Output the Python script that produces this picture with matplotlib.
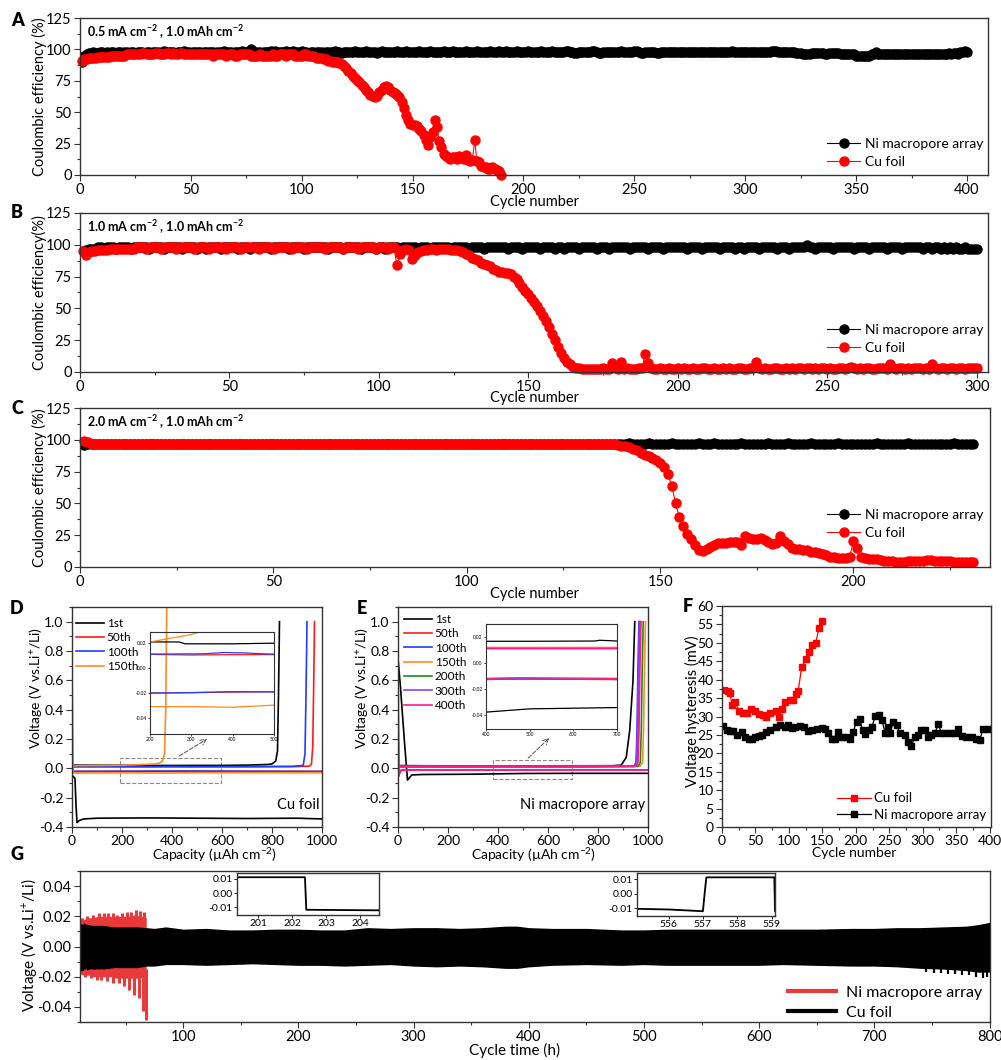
"""Li plating/stripping performance: CE, voltage profiles, hysteresis, symmetric-cell cycling."""

import matplotlib.pyplot as plt
import numpy as np
from matplotlib.lines import Line2D
from matplotlib.patches import Rectangle
from matplotlib.ticker import FormatStrFormatter, MultipleLocator

plt.rcParams['font.family'] = ['Lato', 'DejaVu Sans']
plt.rcParams['mathtext.fontset'] = 'custom'
plt.rcParams['mathtext.rm'] = 'Lato'
plt.rcParams['mathtext.it'] = 'Lato:italic'
plt.rcParams['mathtext.bf'] = 'Lato:bold'
plt.rcParams['axes.linewidth'] = 1.0
plt.rcParams['axes.edgecolor'] = '#333333'

W, H = 1001, 1060


def vals(s):
    return np.array(s.split(), dtype=float)


# ---- A: 0.5 mA cm-2 coulombic efficiency (per cycle) ----
ni_a = vals("""
90 95 96 97 97 98 97 97 98 98 97 98 97 98 98 97 98 98 97 98
98 97 98 98 97 98 98 98 97 98 98 97 98 98 98 97 98 99 98 98
98 98 97 98 98 98 99 98 98 97 98 98 98 98 97 98 98 98 98 98
97 98 98 98 99 98 98 98 97 98 98 98 99 98 98 99 100 98 98 98
98 97 98 98 98 99 98 99 98 98 98 98 99 98 98 99 98 98 98 99
98 98 97 98 98 97 98 98 98 97 98 98 98 98 99 98 98 97 98 98
98 98 98 99 98 98 98 98 99 98 98 98 98 97 98 99 98 98 98 98
98 98 99 98 98 98 99 98 98 98 98 98 99 98 98 98 98 99 98 98
98 98 98 99 98 98 98 99 98 98 98 98 98 99 98 98 98 98 99 98
98 98 98 98 99 98 98 98 99 98 98 99 98 98 98 98 99 98 98 98
98 99 98 98 98 98 98 99 98 98 98 98 99 98 98 98 98 98 99 99
98 98 97 97 98 98 98 98 98 98 99 99 98 97 97 98 98 98 98 98
98 98 98 99 98 98 98 98 98 99 99 98 97 97 98 98 98 98 98 97
97 98 98 98 98 98 98 98 98 98 98 98 98 98 98 98 98 98 98 98
98 98 98 98 98 98 98 98 98 98 98 98 98 99 98 98 98 98 98 98
98 98 98 98 98 98 98 98 98 98 98 99 99 99 98 98 98 98 98 98
98 98 97 97 97 96 96 96 96 97 97 97 97 97 97 96 96 97 97 97
97 97 96 96 96 96 96 96 96 95 95 95 95 95 95 95 96 96 98 96
96 96 96 96 96 96 96 96 96 96 96 96 96 96 96 96 96 96 96 96
96 96 96 96 96 96 96 96 96 96 96 97 96 97 97 96 98 98 99 98
""")
cu_a = vals("""
91 92 92 93 93 93 93 94 94 94 94 94 94 95 95 95 95 95 95 95
96 96 96 96 96 96 96 97 97 96 96 96 96 97 97 96 96 96 97 97
96 97 96 96 97 97 96 96 96 96 96 96 96 96 96 96 96 96 96 95
96 96 96 96 96 95 96 96 96 95 95 96 96 96 96 96 95 95 95 95
96 95 95 95 95 95 96 95 95 96 96 96 95 96 96 96 95 95 95 95
96 96 95 95 95 94 93 93 93 92 92 91 91 90 90 90 89 88 87 85
83 81 79 77 76 74 72 70 68 66 64 63 62 63 66 68 70 71 70 68
66 65 64 62 58 53 48 44 41 40 40 39 37 35 32 28 24 30 34 44
38 27 22 17 15 14 13 14 14 13 15 14 13 16 12 11 12 28 11 10
7 6 6 5 5 6 5 4 3 0
""")

# ---- B: 1.0 mA cm-2 ----
ni_b = vals("""
95 96 97 97 97 98 98 97 98 98 98 97 98 98 98 98 97 98 98 98
98 98 97 98 98 98 98 97 98 98 98 98 98 97 98 98 98 98 97 98
98 97 98 98 98 98 97 98 98 98 98 98 97 98 98 98 97 98 98 98
98 98 98 97 98 98 98 98 98 97 98 98 98 98 97 98 98 98 98 98
98 98 97 98 98 98 98 97 98 98 98 98 98 97 98 98 98 98 97 98
98 97 98 98 98 98 97 98 98 98 98 98 97 98 98 98 97 98 98 98
98 98 98 97 98 98 98 98 98 97 98 98 98 98 97 98 98 98 98 98
98 98 97 98 98 98 98 97 98 98 98 98 98 97 98 98 98 98 97 98
98 97 98 98 98 98 97 98 98 98 98 98 97 98 98 98 97 98 98 98
98 98 98 97 98 98 98 98 98 97 98 98 98 98 97 98 98 98 98 98
98 98 97 98 98 98 98 97 98 98 98 98 98 97 98 98 98 98 97 98
98 97 98 98 98 98 97 98 98 98 98 98 97 98 98 98 97 98 98 98
98 98 100 98 98 97 98 98 98 98 98 97 98 98 98 98 98 98 97 98
98 98 98 97 98 98 98 98 98 97 98 98 98 98 97 98 98 98 98 98
98 97 98 98 97 98 98 97 98 97 98 97 98 97 97 98 97 97 97 97
""")
cu_b = vals("""
95 92 94 95 95 96 96 96 96 97 97 97 97 97 97 97 97 97 98 98
98 97 98 98 98 98 97 98 98 98 98 97 98 98 98 98 98 97 98 98
98 98 97 98 98 98 98 98 97 98 98 98 98 97 98 98 98 98 98 97
98 98 98 98 97 98 98 98 98 98 97 98 98 98 98 97 98 98 98 98
98 97 98 98 98 98 98 97 98 98 98 98 97 98 98 98 98 98 97 98
98 98 97 98 98 84 93 96 97 96 89 92 94 95 96 96 97 97 96 97
97 97 97 96 96 96 95 94 93 92 90 89 88 86 85 84 83 81 80 79
79 78 78 77 75 73 70 67 64 61 58 55 52 48 44 40 35 30 25 20
15 11 8 6 4 3 3 2 2 2 2 2 2 2 3 2 2 7 3 2
8 2 3 2 2 2 3 3 14 7 3 2 2 3 2 2 3 2 2 3
2 3 2 2 3 2 2 3 3 2 2 3 2 2 3 2 3 2 2 3
3 2 2 3 3 8 3 2 3 2 2 3 3 2 2 3 2 3 2 3
3 2 3 3 2 3 2 3 3 2 3 2 2 3 3 2 3 4 3 2
3 2 3 3 2 2 3 3 3 2 6 3 2 3 3 2 3 2 3 3
3 2 3 2 6 3 2 3 3 2 3 3 2 3 3 2 3 3 3 3
""")

# ---- C: 2.0 mA cm-2 ----
ni_c = vals("""
96 97 97 97 97 97 97 97 97 97 97 97 97 97 97 97 97 97 97 97
97 97 97 97 97 97 97 97 97 97 97 97 97 97 97 97 97 97 97 97
97 97 97 97 97 97 97 97 97 97 97 97 97 97 97 97 97 97 97 97
97 97 97 97 97 97 97 97 97 97 97 97 97 97 97 97 97 97 97 97
97 97 97 97 97 97 97 97 97 97 97 97 97 97 97 97 97 97 97 97
97 97 97 97 97 97 97 97 97 97 97 97 97 97 97 97 97 97 97 97
97 97 97 97 97 97 97 97 97 97 97 97 97 97 97 97 97 97 97 97
97 97.5 97 97 97 97 97.5 97 97 97 97 97 97.5 97 97 97 97 97 97 97.5
97 97 97 97.5 97 97 97 97 97 97 97.5 97 97 97 97 97 97 97.5 97 97
97 97 97.5 97 97 97 97 97 97.5 97 97 97 97 97 97 97.5 97 97 97 97
97 97 97 97 97 97.5 97 97 97 97 97 97 97 97.5 97 97 97 97 97 97
97 97 97 97 97 97.5 97 97 96.5 97 97
""")
cu_c = vals("""
99 98 97 97 97 97 97 97 97 97 97 97 97 97 97 97 97 97 97 97
97 97 97 97 97 97 97 97 97 97 97 97 97 97 97 97 97 97 97 97
97 97 97 97 97 97 97 97 97 97 97 97 97 97 97 97 97 97 97 97
97 97 97 97 97 97 97 97 97 97 97 97 97 97 97 97 97 97 97 97
97 97 97 97 97 97 97 97 97 97 97 97 97 97 97 97 97 97 97 97
97 97 97 97 97 97 97 97 97 97 97 97 97 97 97 97 97 97 97 97
97 97 97 97 97 97 97 97 97 97 97 97 97 97 97 97 97 96.5 96 95.5
95 94 93 92 90 88 87 86 84 82 79 73 64 50 39 32 26 22 17 13
12.5 14 16 17 18.5 19 19 19.5 20 20 17 24.5 23 22 22 22.5 21 20 18 19
24.5 20.5 18 15 14.5 14 13.5 13.5 12 11.5 11 10.5 9.5 8 7.5 7 7 7 8 20.5
15 8 7 6.5 6.3 6 5.5 5 4.5 4.5 4.3 4.2 4.2 4.5 4.5 4.8 5 5 5.5 5.5
5 5 4.5 4.5 4.5 4.2 4.2 4.2 4.3 4.2 4.2
""")

# ---- D: Cu foil voltage profiles (capacity uAh cm-2, V) ----
d_labels = ['1st', '50th', '100th', '150th']
d_colors = ['black', '#ff1a1a', '#1f3dff', '#ff8a1f']
d_strip_cap = [
    [0, 100, 200, 270, 285, 300, 400, 500, 600, 700, 780, 800, 815, 822, 826, 830],
    [0, 200, 300, 400, 500, 700, 900, 950, 958, 963, 967, 970],
    [0, 200, 330, 380, 430, 470, 500, 700, 880, 925, 932, 936, 940],
    [0, 100, 200, 250, 300, 330, 350, 362, 370, 375, 379],
]
d_strip_v = [
    [0.022, 0.021, 0.021, 0.021, 0.0195, 0.0195, 0.0195, 0.02, 0.02, 0.022, 0.026, 0.03, 0.05, 0.12, 0.5, 1.0],
    [0.011, 0.011, 0.0105, 0.0108, 0.0108, 0.011, 0.012, 0.015, 0.03, 0.15, 0.6, 1.0],
    [0.0115, 0.0112, 0.0115, 0.0125, 0.0122, 0.0115, 0.0112, 0.012, 0.013, 0.02, 0.1, 0.5, 1.0],
    [0.018, 0.019, 0.021, 0.024, 0.027, 0.03, 0.035, 0.05, 0.1, 0.4, 1.1],
]
d_plate_cap = [
    [0, 5, 12, 16, 20, 30, 47, 100, 300, 500, 700, 900, 1000],
    [0, 2, 6, 200, 300, 400, 500, 700, 1000],
    [0, 2, 6, 200, 300, 400, 500, 700, 1000],
    [0, 2, 6, 200, 300, 400, 500, 700, 1000],
]
d_plate_v = [
    [-0.05, -0.055, -0.07, -0.25, -0.37, -0.355, -0.345, -0.34, -0.338, -0.34, -0.342, -0.34, -0.345],
    [0.85, 0.0, -0.021, -0.020, -0.0198, -0.0193, -0.019, -0.02, -0.021],
    [0.86, 0.0, -0.021, -0.0202, -0.0197, -0.019, -0.0192, -0.02, -0.021],
    [1.05, 0.0, -0.032, -0.031, -0.031, -0.0315, -0.0298, -0.03, -0.03],
]

# ---- E: Ni macropore array voltage profiles ----
e_labels = ['1st', '50th', '100th', '150th', '200th', '300th', '400th']
e_colors = ['black', '#ff1a1a', '#1f3dff', '#ff8a1f', '#1a8a1a', '#8a3dff', '#ff1a8c']
e_rise = [0, 962, 958, 984, 975, 960, 966]  # capacity where stripping ends
e_strip_cap = [0, 100, 300, 500, 650, 660, 700, 860, 893, 913, 927, 940, 947]
e_strip_v = [0.019, 0.0175, 0.017, 0.017, 0.0172, 0.0178, 0.0172, 0.018, 0.022, 0.075, 0.26, 0.6, 1.0]
e_plate_black_cap = [0, 10, 25, 38, 55, 100, 300, 500, 700, 1000]
e_plate_black_v = [0.75, 0.55, 0.2, -0.08, -0.045, -0.042, -0.04, -0.035, -0.034, -0.034]
e_upper = [0, 0.0125, 0.0118, 0.0128, 0.0115, 0.0122, 0.012]   # stripping plateau
e_lower = [0, -0.0125, -0.0122, -0.012, -0.0124, -0.0123, -0.0115]  # plating plateau
e_start = [0, 0.3, 0.5, 0.2, -0.06, -0.05, 0.95]

# ---- F: voltage hysteresis (mV) ----
cu_f_x = [3, 9, 12, 15, 20, 25, 31, 37, 43, 50, 56, 62, 66, 72, 80, 85, 89, 94, 101, 106, 110,
          114, 119, 125, 130, 135, 140, 145, 150]
cu_f_y = [37.2, 37, 36.5, 33, 34, 31.5, 31, 31, 32, 31.5, 30.8, 30.5, 30, 31, 31.5, 30, 32, 34,
          34.5, 34.5, 36, 37, 43.5, 45.5, 47.5, 49.5, 50, 54, 56]
ni_f_x = [2, 7, 12, 17, 22, 30, 35, 40, 45, 50, 55, 60, 66, 72, 80, 87, 94, 99, 104, 109, 117,
          122, 129, 134, 142, 149, 154, 159, 164, 169, 174, 179, 186, 191, 196, 201, 206, 210,
          214, 219, 224, 229, 234, 239, 244, 248, 251, 256, 261, 266, 273, 278, 283, 288, 293,
          298, 303, 308, 313, 318, 323, 328, 333, 340, 348, 353, 358, 365, 373, 380, 385, 390, 398]
ni_f_y = [27.4, 26.3, 26.1, 26.1, 24.9, 25.8, 24.5, 23.8, 24, 24.5, 24.7, 25, 25.8, 26.3, 27.2,
          27.7, 27.2, 27.7, 27, 27.2, 27.5, 27.2, 26.1, 26.3, 26.7, 26.9, 26.7, 25.4, 23.8, 24,
          25.8, 24.5, 24.5, 23.8, 25.8, 28.6, 29.2, 26.3, 25.2, 26.3, 27.2, 30.1, 30.4, 29, 25.4,
          27.2, 25.4, 28.6, 27.7, 25.4, 24.9, 23.1, 21.9, 24.5, 24.9, 26.3, 26.3, 24.5, 24.9,
          25.4, 27.9, 25.6, 25.4, 25.6, 25.4, 26.5, 24.7, 24.5, 24.3, 24, 23.6, 26.5, 26.5]

# ---- G: symmetric cell cycling, voltage envelopes (h, V) ----
g_t = [10, 12, 20, 30, 40, 50, 60, 68, 75, 85, 100, 120, 140, 160, 180, 200, 220, 240, 260, 280,
       300, 320, 340, 360, 380, 390, 400, 420, 450, 480, 500, 520, 550, 580, 600, 620, 650, 680,
       700, 720, 740, 760, 780, 790, 800]
g_up = [0.015, 0.016, 0.014, 0.014, 0.013, 0.013, 0.013, 0.0125, 0.012, 0.013, 0.0115, 0.012,
        0.011, 0.011, 0.0115, 0.0115, 0.011, 0.011, 0.0125, 0.012, 0.0125, 0.0125, 0.012, 0.0125,
        0.0135, 0.0135, 0.0125, 0.012, 0.012, 0.011, 0.011, 0.0115, 0.0115, 0.0115, 0.0115,
        0.0115, 0.0115, 0.012, 0.012, 0.0125, 0.0125, 0.013, 0.0135, 0.0145, 0.016]
g_lo = [-0.016, -0.016, -0.015, -0.015, -0.014, -0.014, -0.014, -0.013, -0.013, -0.012, -0.012,
        -0.0125, -0.012, -0.0115, -0.012, -0.0125, -0.0125, -0.013, -0.0125, -0.012, -0.013,
        -0.0135, -0.013, -0.0135, -0.0145, -0.0145, -0.0135, -0.0125, -0.012, -0.0125, -0.012,
        -0.0125, -0.0125, -0.0125, -0.0125, -0.012, -0.0125, -0.013, -0.013, -0.0135, -0.0145,
        -0.015, -0.016, -0.017, -0.017]
g_tail_t = [745, 752, 758, 764, 770, 776, 782, 788, 794, 798]
g_tail_v = [-0.017, -0.0175, -0.0178, -0.018, -0.018, -0.019, -0.019, -0.02, -0.021, -0.02]
r_t = [10, 14, 18, 22, 26, 30, 34, 38, 42, 46, 50, 54, 58, 62, 66, 68]
r_up = [0.018, 0.018, 0.019, 0.019, 0.02, 0.02, 0.02, 0.02, 0.02, 0.02, 0.02, 0.02, 0.021, 0.02,
        0.02, 0.019]
r_lo = [-0.018, -0.019, -0.019, -0.02, -0.02, -0.02, -0.02, -0.02, -0.021, -0.021, -0.021,
        -0.021, -0.021, -0.021, -0.02, -0.02]
r_peak_t = [12, 17, 22, 27, 31, 35, 39, 43, 47, 51, 55, 59, 63, 66]
r_peak_v = [0.019, 0.02, 0.021, 0.022, 0.0225, 0.0225, 0.022, 0.021, 0.022, 0.023, 0.023, 0.024,
            0.0235, 0.023]
r_dip_t = [15, 20, 25, 29, 34, 39, 44, 49, 53, 57, 62, 65, 68]
r_dip_v = [-0.02, -0.021, -0.022, -0.0225, -0.023, -0.024, -0.0245, -0.026, -0.0285, -0.032,
           -0.034, -0.043, -0.049]
ins1_t = [200.3, 202.38, 202.42, 204.6]
ins1_v = [0.0112, 0.0112, -0.0118, -0.0122]
ins2_t = [555.0, 556.0, 557.0, 557.05, 557.1, 559.08, 559.1]
ins2_v = [-0.0105, -0.011, -0.0122, 0.0, 0.0112, 0.0112, -0.012]

fig = plt.figure(figsize=(W / 100, H / 100), dpi=100)


def px_axes(l, t, r, b):
    return fig.add_axes([l / W, 1 - b / H, (r - l) / W, (b - t) / H])


def style(ax, size=10):
    ax.tick_params(which='both', direction='out', top=False, right=False,
                   labelsize=size, width=0.8, color='#333333', pad=2)
    ax.tick_params(which='major', length=4)
    ax.tick_params(which='minor', length=2.2)


def put_label(ax, rect, text, which, cx, cy, size=10.5):
    l, t, r, b = rect
    fx = (cx - l) / (r - l)
    fy = (b - cy) / (b - t)
    if which == 'x':
        ax.set_xlabel(text, fontsize=size)
        ax.xaxis.label.set_va('center')
        ax.xaxis.set_label_coords(fx, fy)
    else:
        ax.set_ylabel(text, fontsize=size)
        ax.yaxis.label.set_va('center')
        ax.yaxis.set_label_coords(fx, fy)


def letter(ch, x, y):
    fig.text(x / W, 1 - y / H, ch, fontsize=13, fontweight='heavy', ha='center', va='center')


def ce_panel(rect, ni, cu, xmax, note, ylab, label_y, note_y, leg_bottom):
    ax = px_axes(*rect)
    ax.plot(np.arange(1, len(ni) + 1), ni, '-o', color='black', ms=6.5, lw=0.8,
            label='Ni macropore array')
    ax.plot(np.arange(1, len(cu) + 1), cu, '-o', color='red', ms=6.5, lw=0.8,
            label='Cu foil', clip_on=False)
    ax.set_xlim(0, xmax)
    ax.set_ylim(0, 125)
    ax.xaxis.set_major_locator(MultipleLocator(50))
    ax.xaxis.set_minor_locator(MultipleLocator(25))
    ax.yaxis.set_major_locator(MultipleLocator(25))
    ax.yaxis.set_minor_locator(MultipleLocator(12.5))
    style(ax, 10.5)
    put_label(ax, rect, 'Cycle number', 'x', 534, label_y)
    put_label(ax, rect, ylab, 'y', 39, (rect[1] + rect[3]) / 2)
    fig.text(87 / W, 1 - note_y / H, note, fontsize=9, fontweight='bold', va='center')
    l, t, r, b = rect
    ax.legend(loc='lower right', bbox_to_anchor=((983 - l) / (r - l), (b - leg_bottom) / (b - t)),
              frameon=False, fontsize=10, handlelength=2.4, labelspacing=0.42, borderaxespad=0,
              borderpad=0, handletextpad=0.3)
    return ax


rect_a = (80, 18, 988, 175)
rect_b = (80, 213, 988, 372)
rect_c = (80, 408, 990, 567)
ce_panel(rect_a, ni_a, cu_a, 409.5, r'0.5 mA cm$^{\mathbf{-2}}$ , 1.0 mAh cm$^{\mathbf{-2}}$',
         'Coulombic efficiency (%)', 202, 32, 168)
ce_panel(rect_b, ni_b, cu_b, 303.7, r'1.0 mA cm$^{\mathbf{-2}}$ , 1.0 mAh cm$^{\mathbf{-2}}$',
         'Coulombic efficiency(%)', 398, 227, 354)
ce_panel(rect_c, ni_c, cu_c, 235.3, r'2.0 mA cm$^{\mathbf{-2}}$ , 1.0 mAh cm$^{\mathbf{-2}}$',
         'Coulombic efficiency (%)', 594, 422, 539)

volt_label = r'Voltage (V vs.Li$^{+}$/Li)'
cap_label = r'Capacity (µAh cm$^{-2}$)'


def volt_axes(ax, rect, ylab_x, xlab_x):
    ax.set_xlim(0, 1000)
    ax.set_ylim(-0.4, 1.1)
    ax.xaxis.set_major_locator(MultipleLocator(200))
    ax.xaxis.set_minor_locator(MultipleLocator(100))
    ax.yaxis.set_major_locator(MultipleLocator(0.2))
    ax.yaxis.set_minor_locator(MultipleLocator(0.1))
    ax.yaxis.set_major_formatter(FormatStrFormatter('%.1f'))
    style(ax, 10)
    put_label(ax, rect, cap_label, 'x', xlab_x, 855, 10)
    put_label(ax, rect, volt_label, 'y', ylab_x, 688, 10)


def inset_style(ax):
    ax.tick_params(which='both', direction='out', top=False, right=False, labelsize=3.5,
                   length=1.5, width=0.5, pad=1)
    for s in ax.spines.values():
        s.set_linewidth(0.8)
    ax.patch.set_alpha(0)


def small_legend(ax, rect, x_px, top_px):
    l, t, r, b = rect
    ax.legend(loc='upper left', bbox_to_anchor=((x_px - l) / (r - l), (b - top_px) / (b - t)),
              frameon=False, fontsize=8.5, handlelength=2.4, labelspacing=0.28,
              borderaxespad=0, borderpad=0, handletextpad=0.2)


# ---- D ----
rect_d = (72, 607, 322, 827)
ax_d = px_axes(*rect_d)
for i in range(4):
    ax_d.plot(d_plate_cap[i], d_plate_v[i], color=d_colors[i], lw=1.2)
    ax_d.plot(d_strip_cap[i], d_strip_v[i], color=d_colors[i], lw=1.2, label=d_labels[i])
volt_axes(ax_d, rect_d, 35, 214)
small_legend(ax_d, rect_d, 76, 618)
ax_d.text(0.99, 0.1, 'Cu foil', transform=ax_d.transAxes, ha='right', va='center', fontsize=10.5)
ax_d.add_patch(Rectangle((190, -0.102), 405, 0.173, fill=False, ls='--', lw=0.8, ec='#888888'))
ax_d.annotate('', xy=(550, 0.21), xytext=(420, 0.075),
              arrowprops=dict(arrowstyle='->', ls='--', lw=0.8, color='#666666'))

ax_di = px_axes(150, 632, 274, 734)
for i in range(4):
    ax_di.plot(d_plate_cap[i], d_plate_v[i], color=d_colors[i], lw=0.9)
    ax_di.plot(d_strip_cap[i], d_strip_v[i], color=d_colors[i], lw=0.9)
ax_di.set_xlim(200, 500)
ax_di.set_ylim(-0.053, 0.029)
ax_di.set_xticks([200, 300, 400, 500])
ax_di.set_yticks([-0.04, -0.02, 0.0, 0.02])
ax_di.yaxis.set_major_formatter(FormatStrFormatter('%.2f'))
inset_style(ax_di)

# ---- E ----
rect_e = (398, 607, 648, 827)
ax_e = px_axes(*rect_e)
ax_e.plot(e_plate_black_cap, e_plate_black_v, color='black', lw=1.2)
ax_e.plot(e_strip_cap, e_strip_v, color='black', lw=1.2, label=e_labels[0])
for i in range(1, 7):
    rc = e_rise[i]
    ax_e.plot([0, 3, 8, 15, 400, 470, 700, 1000],
              [e_start[i], -0.05, -0.02, e_lower[i], e_lower[i], e_lower[i] + 0.0005,
               e_lower[i], e_lower[i]], color=e_colors[i], lw=1.2)
    ax_e.plot([0, 400, 700, rc - 15, rc - 6, rc - 2, rc + 2, rc + 6],
              [e_upper[i], e_upper[i], e_upper[i], e_upper[i] + 0.002, 0.04, 0.25, 0.7, 1.0],
              color=e_colors[i], lw=1.2, label=e_labels[i])
volt_axes(ax_e, rect_e, 362, 533)
small_legend(ax_e, rect_e, 404, 614)
ax_e.text(0.99, 0.1, 'Ni macropore array', transform=ax_e.transAxes, ha='right', va='center',
          fontsize=10.5)
ax_e.add_patch(Rectangle((380, -0.072), 316, 0.129, fill=False, ls='--', lw=0.8, ec='#888888'))
ax_e.annotate('', xy=(613, 0.22), xytext=(513, 0.057),
              arrowprops=dict(arrowstyle='->', ls='--', lw=0.8, color='#666666'))

ax_ei = px_axes(486, 624, 617, 729)
ax_ei.plot(e_plate_black_cap, e_plate_black_v, color='black', lw=0.9)
ax_ei.plot(e_strip_cap, e_strip_v, color='black', lw=0.9)
for i in range(1, 7):
    ax_ei.plot([0, 400, 470, 700, 1000],
               [e_lower[i], e_lower[i], e_lower[i] + 0.0005, e_lower[i], e_lower[i]],
               color=e_colors[i], lw=0.9)
    ax_ei.plot([0, 400, 700, 900], [e_upper[i]] * 4, color=e_colors[i], lw=0.9)
ax_ei.set_xlim(400, 700)
ax_ei.set_ylim(-0.0505, 0.0303)
ax_ei.set_xticks([400, 500, 600, 700])
ax_ei.set_yticks([-0.04, -0.02, 0.0, 0.02])
ax_ei.yaxis.set_major_formatter(FormatStrFormatter('%.2f'))
inset_style(ax_ei)

# ---- F ----
rect_f = (722, 606, 991, 827)
ax_f = px_axes(*rect_f)
ax_f.plot(cu_f_x, cu_f_y, '-s', color='red', ms=4.5, lw=0.9, label='Cu foil')
ax_f.plot(ni_f_x, ni_f_y, '-s', color='black', ms=4.5, lw=0.9, label='Ni macropore array')
ax_f.set_xlim(0, 402)
ax_f.set_ylim(0, 60)
ax_f.xaxis.set_major_locator(MultipleLocator(50))
ax_f.xaxis.set_minor_locator(MultipleLocator(25))
ax_f.yaxis.set_major_locator(MultipleLocator(5))
ax_f.yaxis.set_minor_locator(MultipleLocator(2.5))
style(ax_f, 10)
put_label(ax_f, rect_f, 'Cycle number', 'x', 854, 853, 10)
put_label(ax_f, rect_f, 'Voltage hysteresis (mV)', 'y', 692, 711, 10.5)
ax_f.legend(loc='lower right', bbox_to_anchor=((986 - 722) / 269, (827 - 821) / 221),
            frameon=False, fontsize=9.5, handlelength=2.6, labelspacing=0.36, borderaxespad=0,
            borderpad=0, handletextpad=0.2)

# ---- G ----
rect_g = (80, 871, 990, 1022)
ax_g = px_axes(*rect_g)
ax_g.fill_between(r_t, r_lo, r_up, color='#e83a3a', lw=0)
ax_g.vlines(r_peak_t, 0.015, r_peak_v, color='#e83a3a', lw=2.2)
ax_g.vlines(r_dip_t, -0.015, r_dip_v, color='#e83a3a', lw=2.2)
ax_g.fill_between(g_t, g_lo, g_up, color='black', lw=0)
ax_g.vlines(g_tail_t, -0.012, g_tail_v, color='black', lw=1.6)
ax_g.set_xlim(10.5, 800.4)
ax_g.set_ylim(-0.05, 0.05)
ax_g.xaxis.set_major_locator(MultipleLocator(100))
ax_g.xaxis.set_minor_locator(MultipleLocator(50))
ax_g.yaxis.set_major_locator(MultipleLocator(0.02))
ax_g.yaxis.set_minor_locator(MultipleLocator(0.01))
ax_g.yaxis.set_major_formatter(FormatStrFormatter('%.2f'))
style(ax_g, 10.5)
put_label(ax_g, rect_g, 'Cycle time (h)', 'x', 515, 1050, 11)
put_label(ax_g, rect_g, volt_label, 'y', 29, 945, 11)
handles = [Line2D([], [], color='#e83a3a', lw=3), Line2D([], [], color='black', lw=3)]
ax_g.legend(handles, ['Ni macropore array', 'Cu foil'], loc='lower right',
            bbox_to_anchor=((982 - 80) / 910, (1022 - 1020) / 151), frameon=False,
            fontsize=11.5, handlelength=3.0, labelspacing=0.38, borderaxespad=0, borderpad=0,
            handletextpad=0.6)

for (l, t, r, b), tt, vv, xl, ticks in [
        ((237, 873, 379, 915), ins1_t, ins1_v, (200.38, 204.56), [201, 202, 203, 204]),
        ((637, 873, 775, 916), ins2_t, ins2_v, (555.08, 559.1), [556, 557, 558, 559])]:
    ax_gi = px_axes(l, t, r, b)
    ax_gi.plot(tt, vv, color='black', lw=1.3)
    ax_gi.set_xlim(*xl)
    ax_gi.set_ylim(-0.0155, 0.0142)
    ax_gi.set_xticks(ticks)
    ax_gi.set_yticks([-0.01, 0.0, 0.01])
    ax_gi.yaxis.set_major_formatter(FormatStrFormatter('%.2f'))
    ax_gi.tick_params(which='both', direction='out', top=False, right=False, labelsize=7.5,
                      length=2, width=0.6, pad=1)

letter('A', 18, 21)
letter('B', 17, 212)
letter('C', 17, 409)
letter('D', 17, 609)
letter('E', 362, 609)
letter('F', 688, 606)
letter('G', 17, 855)

fig.savefig('out.png', dpi=100)
